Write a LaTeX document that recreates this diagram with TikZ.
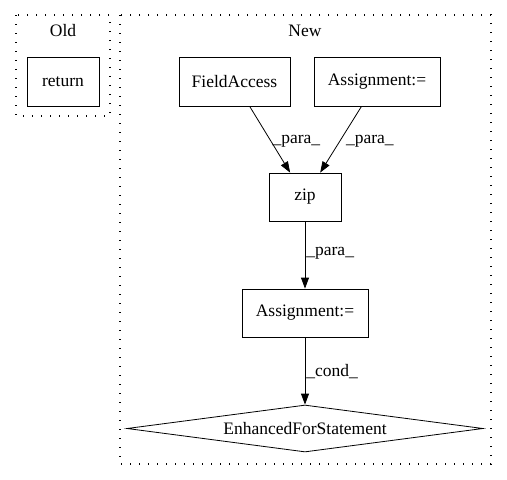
\documentclass[tikz,border=0pt]{standalone}
\usepackage{fontspec}
\setmainfont{Liberation Serif}
\usetikzlibrary{shapes.geometric,arrows.meta}
\begin{document}
\begin{tikzpicture}[x=1pt,y=-1pt,
    every node/.style={font=\fontsize{17.5}{20}\selectfont},
    box/.style={draw,rectangle,line width=0.8pt,inner sep=0pt,minimum height=49pt},
    cluster/.style={line width=1.2pt,dash pattern=on 1.2pt off 7.8pt},
    edge/.style={line width=0.8pt,-{Triangle[length=11pt,width=8pt]}},
    lbl/.style={inner sep=1pt,anchor=west}]
    \useasboundingbox (0,0) rectangle (507,480);
    % Clusters.
    \draw[cluster] (16,15) rectangle (110,116);
    \draw[cluster] (120,15) rectangle (491,464);
    \node (old) at (63,31) {Old};
    \node (new) at (305,31) {New};
    % Nodes.
    \node[box,minimum width=72pt] (ret) at (63,81.5) {return};
    \node[box,minimum width=111pt] (fa) at (234.5,81.5) {FieldAccess};
    \node[box,minimum width=126pt] (asgA) at (377,81.5) {Assignment:=};
    \node[box,minimum width=72pt,minimum height=48pt] (zip) at (305,197) {zip};
    \node[box,minimum width=126pt,minimum height=48pt] (asgB) at (305,313) {Assignment:=};
    \node[draw,diamond,aspect=7.5,inner sep=0pt,line width=0.8pt,
      minimum width=356pt,minimum height=47pt] (efs) at (305,428.5) {EnhancedForStatement};
    % Edges.
    \draw[edge] (fa) -- node[lbl,pos=0.53] (p1) {\_para\_} (zip);
    \draw[edge] (asgA) -- node[lbl,pos=0.53,xshift=5pt] (p2) {\_para\_} (zip);
    \draw[edge] (zip) -- node[lbl,pos=0.48] (p3) {\_para\_} (asgB);
    \draw[edge] (asgB) -- node[lbl,pos=0.51] (c1) {\_cond\_} (efs);
\end{tikzpicture}
\end{document}
